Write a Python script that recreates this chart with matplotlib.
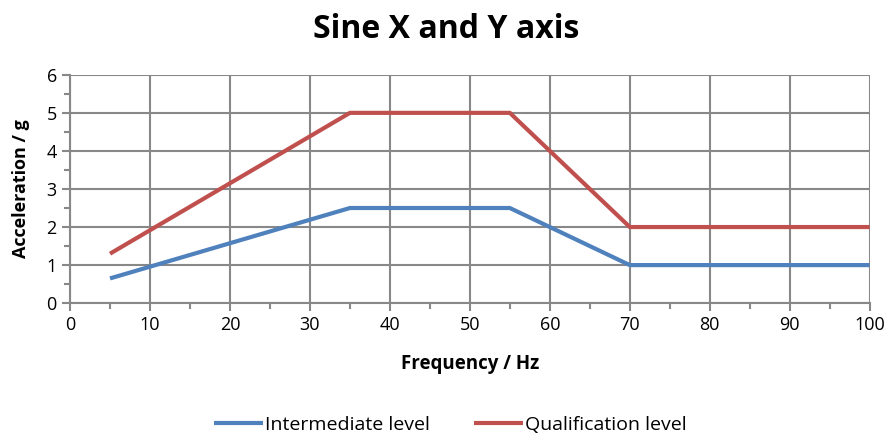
import matplotlib
matplotlib.use("Agg")
import matplotlib.pyplot as plt
from matplotlib.ticker import MultipleLocator

plt.rcParams['font.family'] = ['Open Sans', 'DejaVu Sans']

freq = [5, 35, 55, 70, 100]
intermediate = [0.65, 2.5, 2.5, 1.0, 1.0]
qualification = [1.3, 5.0, 5.0, 2.0, 2.0]

fig = plt.figure(figsize=(8.92, 4.4), dpi=100)
ax = fig.add_axes([0.0785, 0.311, 0.8965, 0.519])

ax.plot(freq, intermediate, color='#4F81BD', lw=3, label='Intermediate level', solid_capstyle='butt')
ax.plot(freq, qualification, color='#C0504D', lw=3, label='Qualification level', solid_capstyle='butt')

ax.set_xlim(0, 100)
ax.set_ylim(0, 6)
ax.xaxis.set_major_locator(MultipleLocator(10))
ax.xaxis.set_minor_locator(MultipleLocator(5))
ax.yaxis.set_major_locator(MultipleLocator(1))
ax.yaxis.set_minor_locator(MultipleLocator(0.5))
ax.grid(True, which='major', color='#888888', lw=1.5)
ax.set_axisbelow(True)
for s in ['top', 'right']:
    ax.spines[s].set_visible(False)
for s in ['left', 'bottom']:
    ax.spines[s].set_color('#888888')
    ax.spines[s].set_linewidth(1.5)
ax.tick_params(which='both', direction='out', color='#888888', width=1.5, labelsize=13)
ax.tick_params(which='major', length=6)
ax.tick_params(which='minor', length=4)

ax.set_xlabel('Frequency / Hz', fontsize=13.5, fontweight='bold', labelpad=14)
ax.set_ylabel('Acceleration / g', fontsize=13, fontweight='bold', labelpad=12)
fig.suptitle('Sine X and Y axis', fontsize=23, fontweight='bold', y=0.97)

fig.legend(loc='lower center', bbox_to_anchor=(0.505, -0.025), ncol=2, frameon=False,
           fontsize=14, handlelength=2.5, handletextpad=0.1, columnspacing=2.3)

fig.savefig('out.png')
